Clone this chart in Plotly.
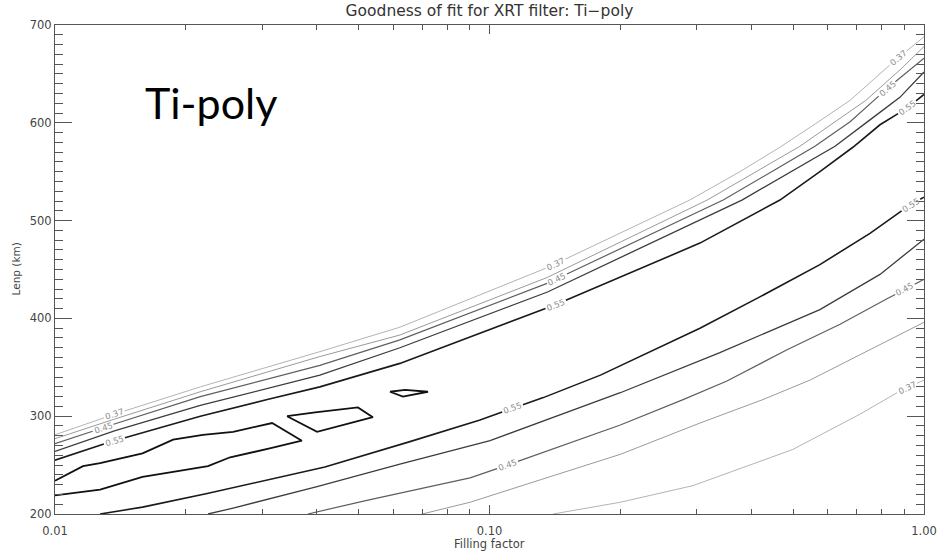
import math
import numpy as np
import plotly.graph_objects as go

# ---- contour paths of the goodness-of-fit map --------------------------
# x: filling factor, y: Lenp (km)

# upper branches (lines above the best-fit valley)
up37_ff = [0.0100, 0.0137, 0.0216, 0.0407, 0.0622, 0.136, 0.289, 0.377, 0.466, 0.567, 0.676, 0.844, 1.000]
up37_len = [281, 302, 330, 366, 391, 452, 521, 550, 575, 600, 623, 661, 688]

up41_ff = [0.0100, 0.0137, 0.0216, 0.0407, 0.0622, 0.136, 0.317, 0.419, 0.518, 0.624, 0.735, 0.880, 1.000]
up41_len = [277, 297, 325, 361, 383, 442, 521, 552, 576, 601, 623, 654, 678]

up45_ff = [0.0100, 0.0137, 0.0216, 0.0407, 0.0622, 0.136, 0.345, 0.454, 0.561, 0.676, 0.822, 1.000]
up45_len = [272, 292, 320, 352, 378, 436, 521, 552, 576, 601, 635, 666]

up50_ff = [0.0100, 0.0137, 0.0216, 0.0407, 0.0622, 0.136, 0.381, 0.505, 0.624, 0.751, 0.880, 1.000]
up50_len = [264, 285, 311, 342, 370, 427, 521, 552, 576, 603, 626, 652]

up55_ff = [0.0100, 0.0137, 0.0216, 0.0308, 0.0407, 0.0622, 0.142, 0.305, 0.466, 0.576, 0.686, 0.792, 0.914, 1.000]
up55_len = [255, 275, 300, 317, 330, 354, 414, 477, 521, 550, 575, 598, 615, 629]

# closed islands of the highest level
isl_a_ff = [0.0100, 0.0116, 0.0127, 0.0159, 0.0187, 0.0219, 0.0257, 0.0316, 0.0370,
            0.0312, 0.0253, 0.0225, 0.0187, 0.0159, 0.0127, 0.0100]
isl_a_len = [234, 249, 252, 262, 276, 281, 284, 293, 275, 267, 258, 249, 243, 238, 225, 219]

isl_b_ff = [0.0342, 0.0397, 0.0498, 0.0539, 0.0401, 0.0342]
isl_b_len = [300, 304, 309, 299, 284, 300]

isl_c_ff = [0.0590, 0.0632, 0.0722, 0.0639, 0.0590]
isl_c_len = [325, 320, 325, 327, 325]

# lower branches (lines below the best-fit valley)
lo55_ff = [0.0127, 0.0159, 0.0224, 0.0324, 0.0418, 0.0656, 0.0951, 0.113, 0.133, 0.180, 0.305, 0.419, 0.576, 0.751, 0.929, 1.000]
lo55_len = [200, 207, 221, 237, 248, 274, 296, 308, 319, 342, 390, 422, 455, 487, 516, 524]

lo50_ff = [0.0225, 0.0257, 0.0401, 0.0622, 0.1003, 0.145, 0.200, 0.339, 0.576, 0.792, 1.000]
lo50_len = [200, 206, 228, 251, 275, 301, 324, 365, 409, 445, 481]

lo45_ff = [0.0382, 0.0522, 0.0902, 0.110, 0.145, 0.200, 0.279, 0.352, 0.484, 0.641, 0.822, 1.000]
lo45_len = [200, 214, 237, 250, 269, 291, 317, 336, 368, 394, 420, 440]

lo41_ff = [0.0700, 0.0902, 0.131, 0.200, 0.305, 0.426, 0.547, 0.751, 1.000]
lo41_len = [200, 212, 235, 261, 293, 317, 337, 368, 396]

lo37_ff = [0.140, 0.200, 0.294, 0.499, 0.712, 0.867, 1.000]
lo37_len = [200, 212, 229, 266, 302, 324, 337]

# level labels: (text, path, filling factor where the label sits)
level_labels = [
    ("0.37", "up37", [0.0137, 0.142, 0.872]),
    ("0.45", "up45", [0.0129, 0.143, 0.822]),
    ("0.55", "up55", [0.0137, 0.142, 0.914]),
    ("0.55", "lo55", [0.113, 0.933]),
    ("0.45", "lo45", [0.110, 0.904]),
    ("0.37", "lo37", [0.914]),
]

# axis ticks
x_ticks = [0.01, 0.1, 1.0]
x_ticktext = ["0.01", "0.10", "1.00"]
x_minor = [0.02, 0.03, 0.04, 0.05, 0.06, 0.07, 0.08, 0.09,
           0.2, 0.3, 0.4, 0.5, 0.6, 0.7, 0.8, 0.9]
y_ticks = [200, 300, 400, 500, 600, 700]

paths = {
    "up37": (up37_ff, up37_len), "up41": (up41_ff, up41_len), "up45": (up45_ff, up45_len),
    "up50": (up50_ff, up50_len), "up55": (up55_ff, up55_len),
    "isla": (isl_a_ff, isl_a_len), "islb": (isl_b_ff, isl_b_len), "islc": (isl_c_ff, isl_c_len),
    "lo55": (lo55_ff, lo55_len), "lo50": (lo50_ff, lo50_len), "lo45": (lo45_ff, lo45_len),
    "lo41": (lo41_ff, lo41_len), "lo37": (lo37_ff, lo37_len),
}

# line style per level
styles = {
    "37": dict(color="#b4b4b4", width=1.0),
    "41": dict(color="#9a9a9a", width=1.0),
    "45": dict(color="#5e5e5e", width=1.2),
    "50": dict(color="#3c3c3c", width=1.3),
    "55": dict(color="#1a1a1a", width=1.6),
    "isl": dict(color="#111111", width=1.8),
}

# ---- geometry of the plotting area ------------------------------------
W, H = 939, 551
M = dict(l=55, r=15, t=25, b=37)
XR = (-2.0, 0.0)
YR = (200, 700)
plot_w = W - M["l"] - M["r"]
plot_h = H - M["t"] - M["b"]
px_dec = plot_w / (XR[1] - XR[0])
px_km = plot_h / (YR[1] - YR[0])

LABEL_HALF_GAP = 11  # px of line removed on each side of a label


def local_angle(lx, ly, u):
    d = 0.02
    y1 = np.interp(u - d, lx, ly)
    y2 = np.interp(u + d, lx, ly)
    return math.atan2((y2 - y1) * px_km, 2 * d * px_dec)


def cut_for_labels(ff, ln, label_ffs):
    """Return the path with gaps where the level labels are written."""
    lx = np.log10(np.asarray(ff, float))
    ly = np.asarray(ln, float)
    gaps = []
    for f in label_ffs:
        u = math.log10(f)
        th = local_angle(lx, ly, u)
        g = LABEL_HALF_GAP * math.cos(th) / px_dec
        gaps.append((u - g, u + g))
    xs, ys = [], []
    for i in range(len(lx)):
        if i > 0:
            for a, b in gaps:
                if lx[i - 1] < a < lx[i]:
                    xs.append(10 ** a); ys.append(np.interp(a, lx, ly))
                    xs.append(None); ys.append(None)
                if lx[i - 1] < b < lx[i]:
                    xs.append(10 ** b); ys.append(np.interp(b, lx, ly))
        inside = any(a < lx[i] < b for a, b in gaps)
        if not inside:
            xs.append(10 ** lx[i]); ys.append(ly[i])
    return xs, ys


labels_by_path = {}
for text, key, ffs in level_labels:
    labels_by_path.setdefault(key, []).extend(ffs)

fig = go.Figure()
for key, (ff, ln) in paths.items():
    st = styles["isl"] if key.startswith("isl") else styles[key[2:]]
    if key in labels_by_path:
        xs, ys = cut_for_labels(ff, ln, labels_by_path[key])
    else:
        xs, ys = ff, ln
    fig.add_trace(go.Scatter(x=xs, y=ys, mode="lines", line=st,
                             hoverinfo="skip", showlegend=False, connectgaps=False))

annotations = []
for text, key, ffs in level_labels:
    ff, ln = paths[key]
    lx = np.log10(np.asarray(ff, float))
    ly = np.asarray(ln, float)
    for f in ffs:
        u = math.log10(f)
        y = float(np.interp(u, lx, ly))
        th = local_angle(lx, ly, u)
        annotations.append(dict(
            x=u, y=y, xref="x", yref="y", text=text, showarrow=False,
            textangle=-math.degrees(th), xanchor="center", yanchor="middle",
            font=dict(family="DejaVu Sans", size=8.5, color="#8c8c8c"),
        ))

axis_font = dict(family="DejaVu Sans", size=11.5, color="#444444")

# big filter name inside the frame
annotations.append(dict(
    x=(143 - M["l"]) / plot_w, y=(H - M["b"] - 102) / plot_h, xref="paper", yref="paper",
    text="Ti-poly", showarrow=False, xanchor="left", yanchor="middle",
    font=dict(family="Lato", size=43, color="#000000"),
))
# axis titles
annotations.append(dict(
    x=0.5, y=-(544 - (H - M["b"])) / plot_h, xref="paper", yref="paper",
    text="Filling factor", showarrow=False, xanchor="center", yanchor="middle",
    font=axis_font,
))
annotations.append(dict(
    x=-(M["l"] - 15) / plot_w, y=0.5, xref="paper", yref="paper",
    text="Lenp (km)", showarrow=False, xanchor="center", yanchor="middle", textangle=-90,
    font=dict(family="DejaVu Sans", size=10.5, color="#444444"),
))

fig.update_layout(
    width=W, height=H, margin=M, autosize=False,
    paper_bgcolor="white", plot_bgcolor="white",
    title=dict(text="Goodness of fit for XRT filter: Ti\u2212poly",
               x=0.5, xref="paper", y=1 - 11 / H, yref="container",
               xanchor="center", yanchor="middle", automargin=False,
               font=dict(family="DejaVu Sans", size=15.5, color="#333333")),
    annotations=annotations,
    xaxis=dict(type="log", range=list(XR), tickvals=x_ticks, ticktext=x_ticktext,
               automargin=False, ticklabelstandoff=6,
               ticks="inside", ticklen=9, tickwidth=1, tickcolor="#555555",
               showline=True, linecolor="#555555", linewidth=1, mirror="ticks",
               showgrid=False, zeroline=False, tickfont=axis_font,
               minor=dict(ticks="inside", ticklen=5, tickvals=x_minor,
                          tickcolor="#555555", showgrid=False)),
    yaxis=dict(range=list(YR), tickvals=y_ticks, automargin=False,
               ticks="inside", ticklen=17, tickwidth=1, tickcolor="#555555",
               showline=True, linecolor="#555555", linewidth=1, mirror="ticks",
               showgrid=False, zeroline=False, tickfont=axis_font,
               minor=dict(ticks="inside", ticklen=8, dtick=10,
                          tickcolor="#555555", showgrid=False)),
)

fig.write_html("out.html")
